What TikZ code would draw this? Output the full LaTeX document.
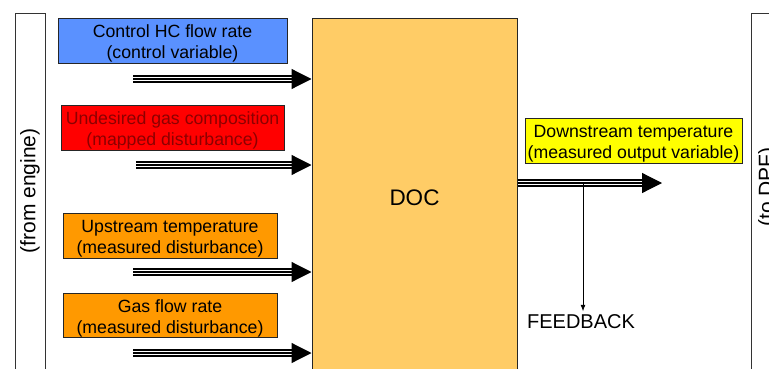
\documentclass[tikz,border=0pt]{standalone}
\usepackage{fontspec}
\setmainfont{Liberation Sans}
\usepackage{xcolor}
\usetikzlibrary{arrows.meta,positioning,calc}

\definecolor{ctrlblue}{RGB}{90,145,255}
\definecolor{mapred}{RGB}{255,0,0}
\definecolor{mapredtext}{RGB}{140,0,0}
\definecolor{measorange}{RGB}{255,153,0}
\definecolor{docorange}{RGB}{255,204,102}
\definecolor{outyellow}{RGB}{255,255,0}

\begin{document}
\begin{tikzpicture}[
  x=1pt,y=1pt,>=Latex,
  flow/.style={draw,line width=7.5pt,shorten >=19pt,
    postaction={draw=white,line width=4.7pt,shorten >=19pt},
    postaction={draw=black,line width=1.2pt,shorten >=0pt,
      -{Triangle[length=20pt,width=20pt]}}},
  signal/.style={draw=black!85,line width=0.8pt,minimum height=45pt,
    inner xsep=1pt,inner ysep=0pt,align=center,text height=40pt,text depth=4pt},
  side/.style={draw=black!80,line width=0.8pt},
  every node/.style={font=\fontsize{17.7}{21}\selectfont}
]
  \clip (0,0) rectangle (769,368);
  % outer boxes
  \draw[side] (15,355) rectangle (45,-10);
  \node[rotate=90,font=\fontsize{21}{24}\selectfont] (engine) at (30,177) {(from engine)};
  \draw[side] (751,355) rectangle (800,-10);
  \node[rotate=90,font=\fontsize{21}{24}\selectfont] (dpf) at (768,181) {(to DPF)};

  \node[draw=black!85,line width=1pt,fill=docorange,minimum width=205pt,
    minimum height=360pt,font=\fontsize{22.5}{26}\selectfont] (doc) at (414.5,170) {DOC};

  \node[signal,fill=ctrlblue,minimum width=229pt] (ctrl) at (172.5,327.5)
    {Control HC flow rate\\(control variable)};
  \node[signal,fill=mapred,text=mapredtext,minimum width=223pt] (undes) at (172.5,240.5)
    {Undesired gas composition\\(mapped disturbance)};
  \node[signal,fill=measorange,minimum width=214pt] (up) at (170,132.5)
    {Upstream temperature\\(measured disturbance)};
  \node[signal,fill=measorange,minimum width=214pt,minimum height=44pt] (gas) at (170,53)
    {Gas flow rate\\(measured disturbance)};
  \node[signal,fill=outyellow,minimum width=217pt] (down) at (633.5,227.5)
    {Downstream temperature\\(measured output variable)};

  \coordinate (in1) at (133,289);
  \coordinate (in2) at (136,203);
  \coordinate (in3) at (133,96);
  \coordinate (in4) at (133,15);
  \coordinate (out) at (662,185);
  \coordinate (fb) at (583,185);
  \node[font=\fontsize{20}{24}\selectfont] (feedback) at (581,46) {FEEDBACK};

  \draw[flow] (in1) -- (in1 -| doc.west);
  \draw[flow] (in2) -- (in2 -| doc.west);
  \draw[flow] (in3) -- (in3 -| doc.west);
  \draw[flow] (in4) -- (in4 -| doc.west);
  \draw[flow] (out -| doc.east) -- (out);
  \draw[->,line width=0.8pt] (fb) -- (fb |- feedback.north);
\end{tikzpicture}
\end{document}
